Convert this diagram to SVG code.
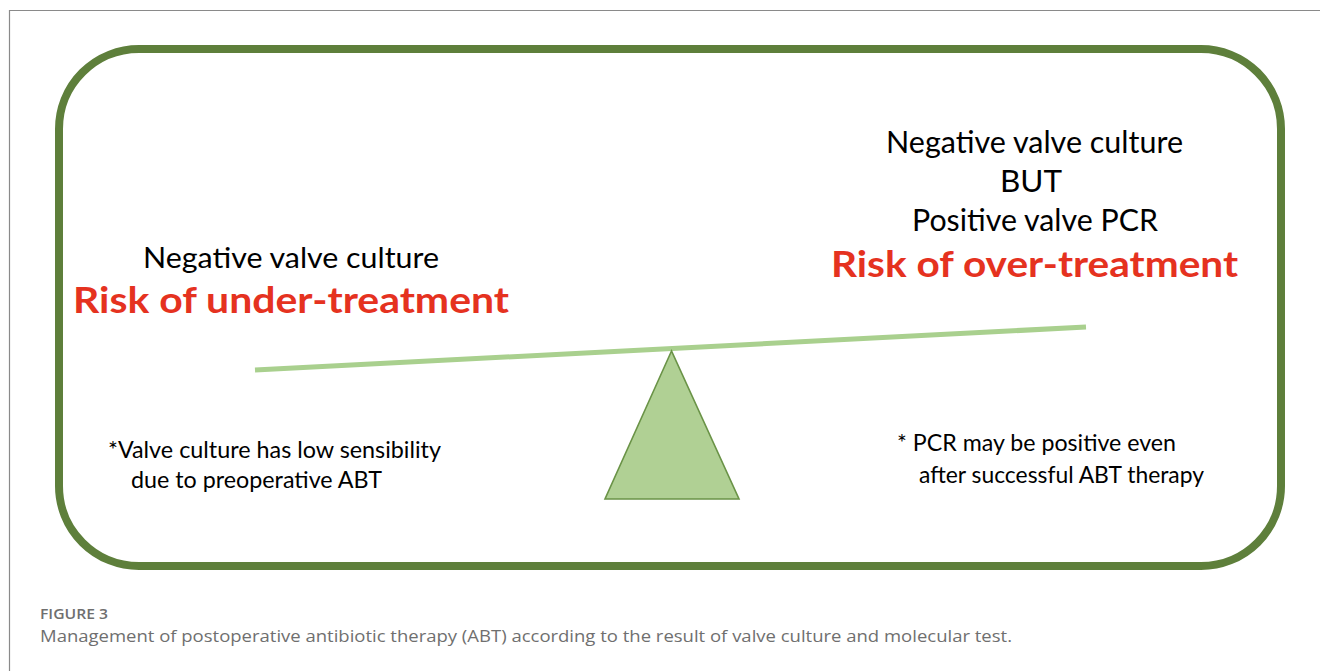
<svg xmlns="http://www.w3.org/2000/svg" width="1320" height="671" viewBox="0 0 1320 671">
  <style>
    .lbl { font-family: Lato, "Open Sans", "Liberation Sans", sans-serif; fill: #000; text-anchor: middle; }
    .risk { font-family: Lato, "Open Sans", "Liberation Sans", sans-serif; font-weight: 700; fill: #e5321f; text-anchor: middle; }
    .note { font-family: Lato, "Open Sans", "Liberation Sans", sans-serif; fill: #000; font-size: 23px; }
    .cap { font-family: "Open Sans", Lato, "Liberation Sans", sans-serif; fill: #6f6f6f; }
  </style>

  <!-- page frame -->
  <path d="M9.5 671 V10.5 H1320" fill="none" stroke="#8a8a8a" stroke-width="1.2"/>

  <!-- rounded panel -->
  <g id="panel">
    <rect x="59" y="49" width="1222" height="517" rx="80" ry="80" fill="#ffffff" stroke="#5e7f3b" stroke-width="8"/>
  </g>

  <!-- seesaw -->
  <g id="beam">
    <line x1="255" y1="370" x2="1086" y2="327" stroke="#a9d08e" stroke-width="5"/>
  </g>
  <g id="fulcrum">
    <polygon points="671.5,351 605,499 739,499" fill="#b0d094" stroke="#6a9347" stroke-width="1.6" stroke-linejoin="miter"/>
  </g>

  <!-- left side -->
  <g id="left-label">
    <text class="lbl" x="291" y="268" font-size="28" textLength="296" lengthAdjust="spacingAndGlyphs">Negative valve culture</text>
    <text class="risk" x="291" y="313" font-size="36" textLength="436" lengthAdjust="spacingAndGlyphs">Risk of under-treatment</text>
  </g>
  <g id="left-note">
    <text class="note" x="108" y="458" textLength="333" lengthAdjust="spacingAndGlyphs">*Valve culture has low sensibility</text>
    <text class="note" x="131" y="488" textLength="251" lengthAdjust="spacingAndGlyphs">due to preoperative ABT</text>
  </g>

  <!-- right side -->
  <g id="right-label">
    <text class="lbl" x="1034.5" y="153" font-size="30" textLength="297" lengthAdjust="spacingAndGlyphs">Negative valve culture</text>
    <text class="lbl" x="1031" y="192" font-size="30" textLength="62" lengthAdjust="spacingAndGlyphs">BUT</text>
    <text class="lbl" x="1035" y="231" font-size="30" textLength="246" lengthAdjust="spacingAndGlyphs">Positive valve PCR</text>
    <text class="risk" x="1034.5" y="277" font-size="36" textLength="407" lengthAdjust="spacingAndGlyphs">Risk of over-treatment</text>
  </g>
  <g id="right-note">
    <text class="note" x="897" y="451" textLength="279" lengthAdjust="spacingAndGlyphs">* PCR may be positive even</text>
    <text class="note" x="919" y="483" textLength="285" lengthAdjust="spacingAndGlyphs">after successful ABT therapy</text>
  </g>

  <!-- caption -->
  <g id="caption">
    <text class="cap" x="40" y="619" font-size="14" font-weight="600" textLength="68" lengthAdjust="spacingAndGlyphs">FIGURE 3</text>
    <text class="cap" x="40" y="642" font-size="17" textLength="972" lengthAdjust="spacingAndGlyphs">Management of postoperative antibiotic therapy (ABT) according to the result of valve culture and molecular test.</text>
  </g>
</svg>
